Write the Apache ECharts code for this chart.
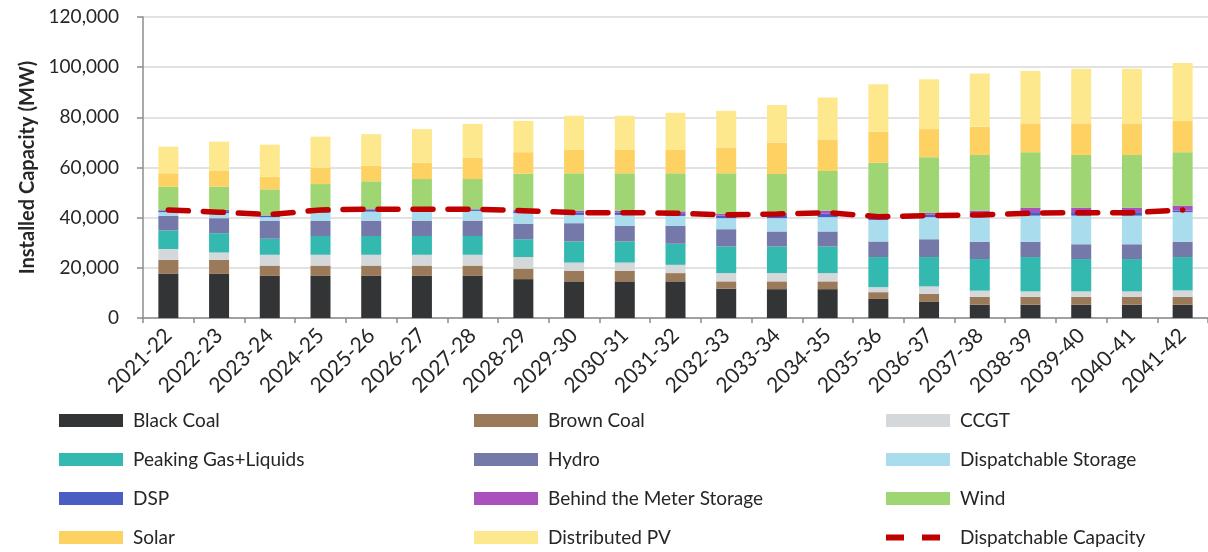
<!DOCTYPE html>
<html>
<head>
<meta charset="utf-8">
<script src="https://cdn.jsdelivr.net/npm/echarts@6/dist/echarts.min.js"></script>
<style>
  html, body { margin: 0; padding: 0; background: #ffffff; }
  #chart { width: 1208px; height: 552px; }
</style>
</head>
<body>
<div id="chart"></div>
<script>
// Financial years on the category axis
const years = ['2021-22','2022-23','2023-24','2024-25','2025-26','2026-27','2027-28','2028-29','2029-30','2030-31','2031-32',
  '2032-33','2033-34','2034-35','2035-36','2036-37','2037-38','2038-39','2039-40','2040-41','2041-42'];

// Installed capacity by technology (MW)
const blackCoal    = [17600,17600,16800,16800,16800,16800,16800,15500,14600,14600,14600,11700,11500,11500,7600,6400,5300,5300,5300,5300,5300];
const brownCoal    = [5600,5600,4100,4100,4100,4100,4100,4200,4200,4200,3300,2900,3100,3100,2700,3200,3100,3100,3100,3100,3100];
const ccgt         = [4300,2900,4300,4300,4300,4300,4300,4600,3300,3300,3300,3300,3300,3300,2000,3000,2500,2200,2200,2200,2600];
const peakingGas   = [7400,7700,6400,7500,7500,7500,7500,7100,8400,8400,8400,10600,10600,10600,12000,11700,12600,13700,12900,12900,13300];
const hydro        = [5800,6000,7200,6100,6100,6100,6100,6200,7300,6200,7100,6900,6000,6000,6200,7100,6900,6100,5900,5900,6100];
const dispStorage  = [1500,2000,1400,3200,3600,3900,3900,4200,3300,4400,4000,4400,5300,5700,8600,8800,9800,10400,11400,11400,11800];
const dsp          = [600,800,600,700,700,500,500,800,1000,1000,800,1000,1200,1400,1200,1000,1300,1400,1400,1400,600];
const btmStorage   = [200,500,100,300,300,200,200,500,700,700,1000,700,800,1200,800,800,1300,1800,1800,1800,2000];
const wind         = [9400,9300,10400,10400,11100,12000,12000,14400,14900,14900,15200,16200,15600,15800,20800,22100,22200,22100,21000,21000,21300];
const solar        = [5300,6200,5000,6500,6200,6500,8500,8600,9300,9300,9300,10300,12500,12600,12400,11200,11200,11500,12600,12600,12400];
const distributedPV= [10600,11700,12800,12400,12600,13400,13500,12500,13600,13600,14800,14600,15000,16700,18900,19900,21300,20900,21800,21800,23200];

// Total dispatchable capacity (MW)
const dispatchableCapacity = [43100,42200,41200,43100,43400,43400,43400,42800,42000,42000,41800,41100,41500,42000,40400,40800,41100,41800,42000,42000,43100];

// Y axis ticks
const yMin = 0, yMax = 120000, yStep = 20000;

const FONT = 'Lato, "Open Sans", sans-serif';
const TEXT = '#262626';

const stackDefs = [
  ['Black Coal', blackCoal, '#333435'],
  ['Brown Coal', brownCoal, '#9b7a5a'],
  ['CCGT', ccgt, '#d4d8da'],
  ['Peaking Gas+Liquids', peakingGas, '#33b9b0'],
  ['Hydro', hydro, '#7579a9'],
  ['Dispatchable Storage', dispStorage, '#a9dcec'],
  ['DSP', dsp, '#4b5cc2'],
  ['Behind the Meter Storage', btmStorage, '#a952be'],
  ['Wind', wind, '#9fd673'],
  ['Solar', solar, '#fdd162'],
  ['Distributed PV', distributedPV, '#fde88d']
];

const series = stackDefs.map(([name, data, color]) => ({
  name, type: 'bar', stack: 'capacity', data,
  barWidth: 20,
  itemStyle: { color },
  emphasis: { disabled: true }
}));

series.push({
  name: 'Dispatchable Capacity',
  type: 'line',
  data: dispatchableCapacity,
  symbol: 'none',
  z: 10,
  lineStyle: { color: '#c00000', width: 5.5, type: [20, 15], cap: 'round' },
  itemStyle: { color: '#c00000' }
});

// Two short dashes inside a 64x13 box (the leading moves fix the box size)
const DASH_ICON = 'path://M0,0M64,13M0,3.5h18v6h-18zM36,3.5h18v6h-18z';

function legendBlock(left, names) {
  return {
    orient: 'vertical',
    left, top: 411, height: 200,
    padding: 0,
    itemWidth: 64, itemHeight: 13,
    itemGap: 20,
    selectedMode: false,
    textStyle: { fontFamily: FONT, fontSize: 19, color: TEXT, padding: [0, 0, 0, 5] },
    data: names.map(n => n === 'Dispatchable Capacity'
      ? { name: n, icon: DASH_ICON }
      : { name: n, icon: 'rect' })
  };
}

const chart = echarts.init(document.getElementById('chart'), null, { renderer: 'canvas' });
chart.setOption({
  animation: false,
  backgroundColor: '#ffffff',
  grid: { left: 143, right: -8, top: 17, bottom: 234, containLabel: false },
  xAxis: {
    type: 'category',
    data: years,
    boundaryGap: true,
    axisLine: { lineStyle: { color: '#8c8c8c', width: 1.5 } },
    axisTick: { show: true, length: 5, lineStyle: { color: '#8c8c8c', width: 1.5 } },
    axisLabel: { rotate: 45, margin: 14, fontFamily: FONT, fontSize: 21, color: TEXT, interval: 0 }
  },
  yAxis: {
    type: 'value',
    min: yMin, max: yMax, interval: yStep,
    name: 'Installed Capacity (MW)',
    nameLocation: 'middle',
    nameRotate: 90,
    nameGap: 100,
    nameTextStyle: { fontFamily: FONT, fontSize: 20, fontWeight: 'bold', color: TEXT },
    axisLine: { show: true, lineStyle: { color: '#8c8c8c', width: 1.5 } },
    axisTick: { show: true, inside: false, length: 6, lineStyle: { color: '#8c8c8c', width: 1.5 } },
    axisLabel: {
      margin: 24, fontFamily: FONT, fontSize: 19, color: TEXT,
      formatter: v => v.toLocaleString('en-US')
    },
    splitLine: { show: true, lineStyle: { color: '#d9d9d9', width: 1.5 } }
  },
  legend: [
    legendBlock(59, ['Black Coal', 'Peaking Gas+Liquids', 'DSP', 'Solar']),
    legendBlock(474, ['Brown Coal', 'Hydro', 'Behind the Meter Storage', 'Distributed PV']),
    legendBlock(886, ['CCGT', 'Dispatchable Storage', 'Wind', 'Dispatchable Capacity'])
  ],
  series
});
</script>
</body>
</html>
